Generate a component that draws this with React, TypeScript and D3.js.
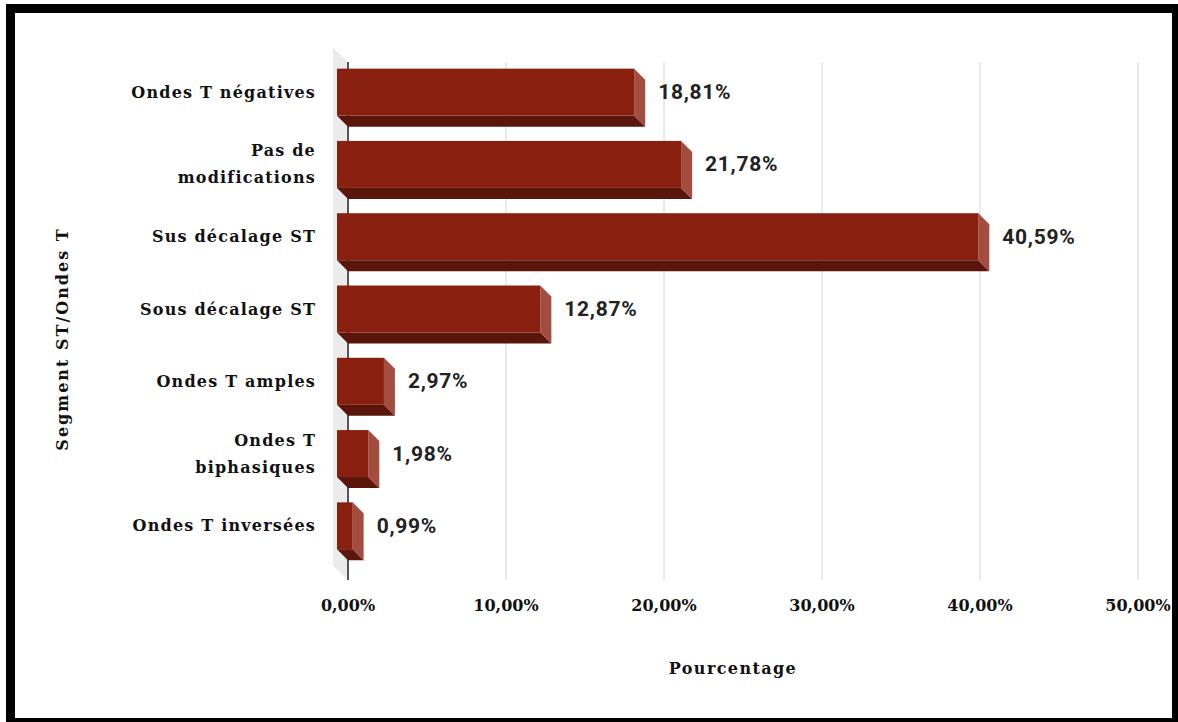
import React from "react";
import * as d3 from "d3";

const categories: string[][] = [
  ["Ondes T négatives"],
  ["Pas de", "modifications"],
  ["Sus décalage ST"],
  ["Sous décalage ST"],
  ["Ondes T amples"],
  ["Ondes T", "biphasiques"],
  ["Ondes T inversées"],
];
const values: number[] = [18.81, 21.78, 40.59, 12.87, 2.97, 1.98, 0.99];
const valueLabels: string[] = ["18,81%", "21,78%", "40,59%", "12,87%", "2,97%", "1,98%", "0,99%"];
const ticks: number[] = [0, 10, 20, 30, 40, 50];
const tickLabels: string[] = ["0,00%", "10,00%", "20,00%", "30,00%", "40,00%", "50,00%"];
const xTitle = "Pourcentage";
const yTitle = "Segment ST/Ondes T";

const W = 1178;
const H = 722;
const D = 11; // 3D depth
const serif = "'DejaVu Serif', serif";
const sans = "Roboto, 'Liberation Sans', sans-serif";

export default function App() {
  const x = d3.scaleLinear().domain([0, 50]).range([348, 1138]);
  const keys = categories.map((c) => c.join(" "));
  const y = d3.scaleBand().domain(keys).range([56, 562]).paddingInner(0.35).paddingOuter(0.175);
  const bw = y.bandwidth();
  const gridTop = 62;
  const gridBottom = 580;

  return (
    <svg width={W} height={H} style={{ position: "absolute", left: 0, top: 0 }}>
      <rect x={0} y={0} width={W} height={H} fill="#fff" />
      <rect x={6} y={4} width={W - 6} height={H - 4} fill="#000" />
      <rect x={15} y={13} width={1172 - 15} height={718 - 13} fill="#fff" />

      {/* left wall */}
      <polygon
        points={`${x(0) - 15},${gridTop - 14} ${x(0)},${gridTop} ${x(0)},${gridBottom} ${x(0) - 15},${gridBottom - 14}`}
        fill="#ebebeb"
      />

      {/* grid lines */}
      {ticks.map((t) => (
        <line
          key={t}
          x1={x(t)}
          x2={x(t)}
          y1={gridTop}
          y2={gridBottom}
          stroke={t === 0 ? "#555" : "#d4d4d4"}
          strokeWidth={t === 0 ? 2 : 1}
        />
      ))}

      {/* bars */}
      {values.map((v, i) => {
        const yt = y(keys[i])!;
        const yb = yt + bw;
        const x0 = x(0) - D;
        const xr = x(v) - D;
        return (
          <g key={i}>
            <polygon
              points={`${x0},${yb} ${xr},${yb} ${xr + D},${yb + D} ${x0 + D},${yb + D}`}
              fill="#5a160a"
            />
            <polygon
              points={`${xr},${yt} ${xr + D},${yt + D} ${xr + D},${yb + D} ${xr},${yb}`}
              fill="#a34d40"
            />
            <rect x={x0} y={yt} width={xr - x0} height={bw} fill="#89200f" />
            <text
              x={x(v) + 13}
              y={yt + bw / 2}
              dominantBaseline="central"
              fontFamily={sans}
              fontWeight="bold"
              fontSize={21}
              letterSpacing={0.7}
              fill="#222"
            >
              {valueLabels[i]}
            </text>
          </g>
        );
      })}

      {/* category labels */}
      {categories.map((lines, i) => {
        const cy = y(keys[i])! + bw / 2;
        const lh = 27;
        return lines.map((ln, j) => (
          <text
            key={i + "-" + j}
            x={316}
            y={cy + (j - (lines.length - 1) / 2) * lh}
            textAnchor="end"
            dominantBaseline="central"
            fontFamily={serif}
            fontWeight="bold"
            fontSize={16}
            letterSpacing={1.2}
            fill="#111"
          >
            {ln}
          </text>
        ));
      })}

      {/* tick labels */}
      {ticks.map((t, i) => (
        <text
          key={t}
          x={x(t)}
          y={605}
          textAnchor="middle"
          dominantBaseline="central"
          fontFamily={serif}
          fontWeight="bold"
          fontSize={16}
          fill="#111"
        >
          {tickLabels[i]}
        </text>
      ))}

      <text
        x={733}
        y={668}
        textAnchor="middle"
        dominantBaseline="central"
        fontFamily={serif}
        fontWeight="bold"
        fontSize={16}
        letterSpacing={1.4}
        fill="#111"
      >
        {xTitle}
      </text>
      <text
        transform={`translate(62,339) rotate(-90)`}
        textAnchor="middle"
        dominantBaseline="central"
        fontFamily={serif}
        fontWeight="bold"
        fontSize={16}
        letterSpacing={2}
        fill="#111"
      >
        {yTitle}
      </text>
    </svg>
  );
}
